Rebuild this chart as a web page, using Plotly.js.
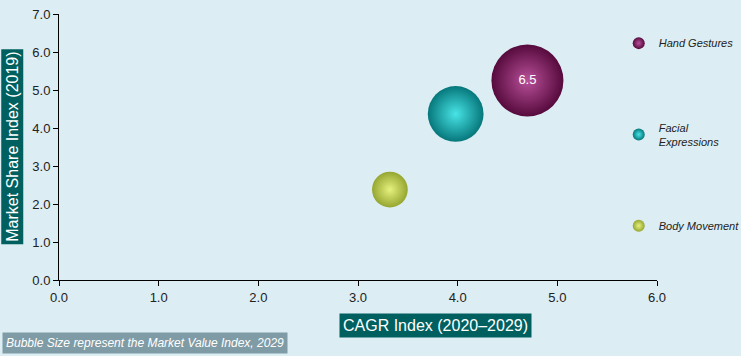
<!DOCTYPE html>
<html>
<head>
<meta charset="utf-8">
<script src="https://cdn.plot.ly/plotly-3.0.1.min.js"></script>
<style>
html,body{margin:0;padding:0;background:#dcedf3;}
#chart{width:741px;height:356px;}
</style>
</head>
<body>
<div id="chart"></div>
<script>
const segments = ["Hand Gestures", "Facial Expressions", "Body Movement"];
const legendLabels = ["Hand Gestures", "Facial<br>Expressions", "Body Movement"];
const cagrIndex = [4.70, 3.98, 3.32];
const shareIndex = [5.25, 4.37, 2.38];
const marketValue = [6.5, 3.9, 1.6];
const showLabel = [true, false, false];
const edgeColors = ["#560a3c", "#06777b", "#95a630"];
const centerColors = ["#b8509a", "#48e4e6", "#e6f27e"];

const traces = segments.map((s, i) => ({
  type: "scatter",
  mode: showLabel[i] ? "markers+text" : "markers",
  name: legendLabels[i],
  legendgroup: s,
  x: [cagrIndex[i]],
  y: [shareIndex[i]],
  text: showLabel[i] ? [marketValue[i].toFixed(1)] : undefined,
  textposition: "middle center",
  textfont: {color: "#ffffff", size: 13, family: "Liberation Sans, Arial, sans-serif"},
  marker: {
    size: [marketValue[i]],
    sizemode: "area",
    sizeref: 2 * 6.5 / (72 * 72),
    opacity: 1,
    color: edgeColors[i],
    gradient: {type: "radial", color: centerColors[i]},
    line: {width: 0}
  },
  hoverinfo: "x+y+name"
}));

const tickFont = {family: "Liberation Sans, Arial, sans-serif", size: 13, color: "#222222"};

const layout = {
  width: 741,
  height: 356,
  paper_bgcolor: "#dcedf3",
  plot_bgcolor: "#dcedf3",
  margin: {l: 59, r: 84, t: 14, b: 76, autoexpand: false},
  showlegend: true,
  legend: {
    x: 0.936, xanchor: "left",
    y: 0.945, yanchor: "top",
    bgcolor: "rgba(0,0,0,0)",
    font: {family: "Liberation Sans, Arial, sans-serif", size: 11, style: "italic", color: "#222222"},
    itemsizing: "constant",
    tracegroupgap: 66,
    traceorder: "grouped",
    itemwidth: 30
  },
  xaxis: {
    range: [0, 6],
    dtick: 1,
    tick0: 0,
    tickformat: ".1f",
    showgrid: false,
    zeroline: false,
    showline: true,
    linecolor: "#000000",
    linewidth: 1,
    ticks: "outside",
    ticklen: 5,
    tickcolor: "#000000",
    tickfont: tickFont
  },
  yaxis: {
    range: [0, 7],
    dtick: 1,
    tick0: 0,
    tickformat: ".1f",
    showgrid: false,
    zeroline: false,
    showline: true,
    linecolor: "#000000",
    linewidth: 1,
    ticks: "outside",
    ticklen: 5,
    tickcolor: "#000000",
    tickfont: tickFont
  },
  annotations: [
    {
      text: "CAGR Index (2020–2029)",
      xref: "paper", yref: "paper",
      x: 0.63, y: -0.123, xanchor: "center", yanchor: "top",
      showarrow: false,
      font: {family: "Liberation Sans Narrow, Liberation Sans, Arial, sans-serif", size: 16, color: "#ffffff"},
      bgcolor: "#006060",
      borderpad: 3
    },
    {
      text: "Market Share Index (2019)",
      xref: "paper", yref: "paper",
      x: -0.079, y: 0.5, xanchor: "center", yanchor: "middle",
      textangle: -90,
      showarrow: false,
      font: {family: "Liberation Sans Narrow, Liberation Sans, Arial, sans-serif", size: 16, color: "#ffffff"},
      bgcolor: "#006060",
      borderpad: 2
    },
    {
      text: "<i>Bubble Size represent the Market Value Index, 2029</i>",
      xref: "paper", yref: "paper",
      x: -0.096, y: -0.195, xanchor: "left", yanchor: "top",
      showarrow: false,
      font: {family: "Liberation Sans Narrow, Liberation Sans, Arial, sans-serif", size: 12, color: "#ffffff"},
      bgcolor: "#7f9ba6",
      borderpad: 3
    }
  ]
};

Plotly.newPlot("chart", traces, layout, {displayModeBar: false, staticPlot: true});
</script>
</body>
</html>
